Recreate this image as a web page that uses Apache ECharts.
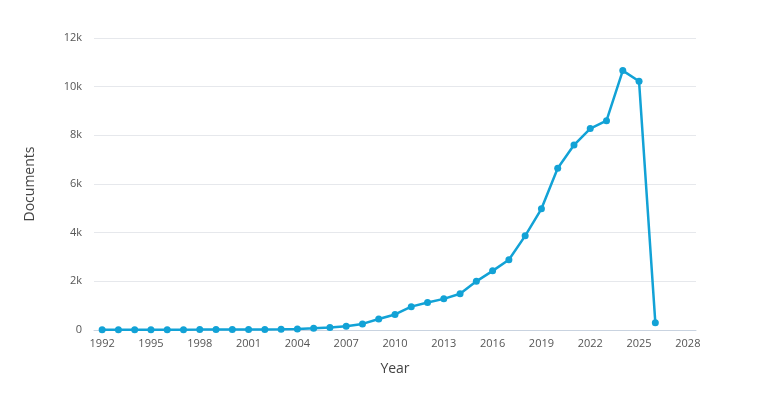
<!DOCTYPE HTML>
<html lang="en">
<head>
    <meta charset="UTF-8"/>
    <title>Documents by year</title>
    <script src="https://cdn.jsdelivr.net/npm/echarts@6/dist/echarts.min.js"></script>
    <style>
        html, body { margin: 0; padding: 0; background: #fff; }
        #main { width: 768px; height: 399px; }
    </style>
</head>
<body>
<div id="main"></div>
<script type="text/javascript">
    // years and document counts
    var years = [1992, 1993, 1994, 1995, 1996, 1997, 1998, 1999, 2000, 2001, 2002, 2003, 2004,
        2005, 2006, 2007, 2008, 2009, 2010, 2011, 2012, 2013, 2014, 2015, 2016, 2017,
        2018, 2019, 2020, 2021, 2022, 2023, 2024, 2025, 2026];
    var documents = [10, 10, 12, 12, 14, 15, 16, 18, 20, 22, 25, 30, 45,
        70, 100, 150, 250, 450, 640, 960, 1130, 1280, 1490, 2000, 2430, 2890,
        3870, 4980, 6650, 7600, 8280, 8600, 10660, 10220, 300];
    var yTicks = [0, 2000, 4000, 6000, 8000, 10000, 12000];

    var points = [];
    for (var i = 0; i < years.length; i++) {
        points.push([years[i], documents[i]]);
    }

    var chart = echarts.init(document.getElementById('main'));
    var font = 'Open Sans';
    chart.setOption({
        animation: false,
        textStyle: { fontFamily: font },
        grid: { left: 94, right: 72, top: 38, bottom: 69 },
        xAxis: {
            type: 'value',
            min: 1991.5,
            max: 2028.5,
            interval: 0.5,
            name: 'Year',
            nameLocation: 'middle',
            nameGap: 32,
            nameTextStyle: { color: '#444', fontSize: 14, fontFamily: font },
            axisLine: { lineStyle: { color: '#c9d3e0', width: 1 } },
            axisTick: { show: false },
            splitLine: { show: false },
            axisLabel: {
                color: '#555',
                fontSize: 11,
                margin: 8,
                formatter: function (v) {
                    return (v % 3 === 0) ? String(v) : '';
                }
            }
        },
        yAxis: {
            type: 'value',
            min: yTicks[0],
            max: yTicks[yTicks.length - 1],
            interval: 2000,
            name: 'Documents',
            nameLocation: 'middle',
            nameGap: 57,
            nameTextStyle: { color: '#444', fontSize: 14, fontFamily: font },
            axisLine: { show: false },
            axisTick: { show: false },
            axisLabel: {
                color: '#555',
                fontSize: 11,
                margin: 12,
                formatter: function (v) {
                    return v === 0 ? '0' : (v / 1000) + 'k';
                }
            },
            splitLine: { lineStyle: { color: '#e6e8ec', width: 1 } }
        },
        series: [{
            name: 'Documents',
            type: 'line',
            data: points,
            symbol: 'circle',
            symbolSize: 7,
            lineStyle: { color: '#12a2d6', width: 2.5 },
            itemStyle: { color: '#12a2d6' }
        }]
    });
</script>
</body>
</html>
